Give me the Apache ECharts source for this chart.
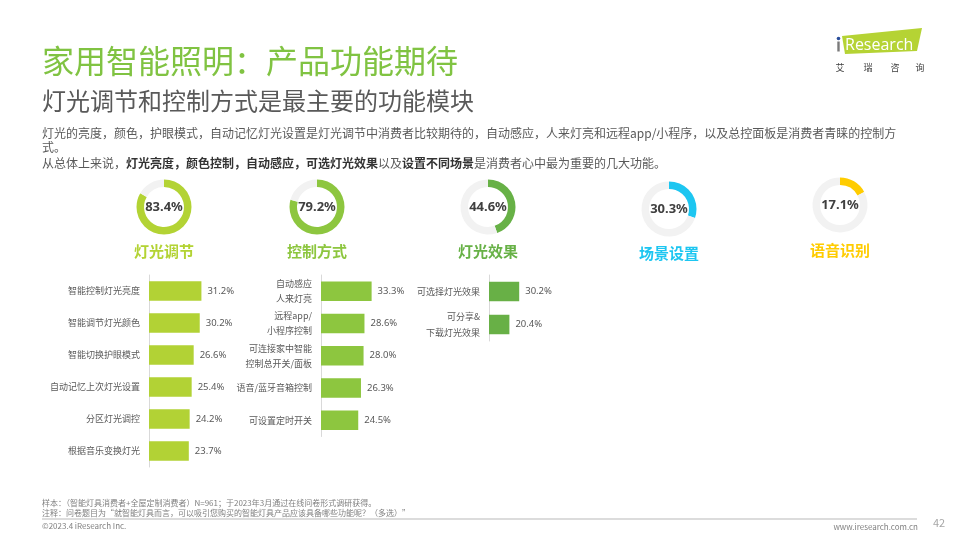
<!DOCTYPE html>
<html>
<head>
<meta charset="utf-8">
<script src="https://cdn.jsdelivr.net/npm/echarts@6/dist/echarts.min.js"></script>
<style>
html,body{margin:0;padding:0;background:#fff;}
#c{width:960px;height:540px;}
</style>
</head>
<body>
<div id="c"></div>
<script>
// ---------- data ----------
var donutNames = ['灯光调节', '控制方式', '灯光效果', '场景设置', '语音识别'];
var donutValues = [83.4, 79.2, 44.6, 30.3, 17.1];

var lightCats = ['智能控制灯光亮度', '智能调节灯光颜色', '智能切换护眼模式', '自动记忆上次灯光设置', '分区灯光调控', '根据音乐变换灯光'];
var lightVals = [31.2, 30.2, 26.6, 25.4, 24.2, 23.7];

var ctrlCats = ['自动感应\n人来灯亮', '远程app/\n小程序控制', '可连接家中智能\n控制总开关/面板', '语音/蓝牙音箱控制', '可设置定时开关'];
var ctrlVals = [33.3, 28.6, 28.0, 26.3, 24.5];

var effectCats = ['可选择灯光效果', '可分享&\n下载灯光效果'];
var effectVals = [30.2, 20.4];

var titleText = '家用智能照明：产品功能期待';
var subtitleText = '灯光调节和控制方式是最主要的功能模块';
var para1 = '灯光的亮度，颜色，护眼模式，自动记忆灯光设置是灯光调节中消费者比较期待的，自动感应，人来灯亮和远程app/小程序，以及总控面板是消费者青睐的控制方';
var para2 = '式。';
var para3Parts = [['n','从总体上来说，'],['b','灯光亮度，颜色控制，自动感应，可选灯光效果'],['n','以及'],['b','设置不同场景'],['n','是消费者心中最为重要的几大功能。']];
var noteSample = '样本：（智能灯具消费者+全屋定制消费者）N=961；于2023年3月通过在线问卷形式调研获得。';
var noteRemark = '注释：问卷题目为“就智能灯具而言，可以吸引您购买的智能灯具产品应该具备哪些功能呢？（多选）”';
var copyright = '©2023.4 iResearch Inc.';
var website = 'www.iresearch.com.cn';
var pageNo = '42';

// ---------- style ----------
var FONT = '"Noto Sans CJK SC","Noto Sans",sans-serif';
var NUMFONT = '"Noto Sans","Noto Sans CJK SC",sans-serif';
var donutColors = ['#b3d334', '#8dc63f', '#67b146', '#1dc6f1', '#ffcc00'];
var donutCenters = [[164, 207], [317, 207], [488, 207], [669, 209], [840, 205]];
var donutLabelY = [251, 251, 251, 253, 250];

var chart = echarts.init(document.getElementById('c'), null, {renderer: 'canvas'});

var series = [];
donutValues.forEach(function (v, i) {
  series.push({
    type: 'pie',
    silent: true,
    center: donutCenters[i],
    radius: [20, 27.5],
    startAngle: 90,
    clockwise: true,
    animation: false,
    labelLine: {show: false},
    data: [
      {value: v, itemStyle: {color: donutColors[i]},
       label: {show: true, position: 'center', formatter: function (p) { return p.value.toFixed(1) + '%'; },
               fontSize: 13, fontWeight: 'bold', color: '#404040', fontFamily: NUMFONT}},
      {value: +(100 - v).toFixed(1), itemStyle: {color: '#f2f2f2'}, label: {show: false}}
    ]
  });
});

function barSeries(idx, vals, color) {
  return {
    type: 'bar',
    xAxisIndex: idx, yAxisIndex: idx,
    data: vals,
    barWidth: 19.5,
    silent: true,
    animation: false,
    itemStyle: {color: color},
    label: {show: true, position: 'right', distance: 6, fontSize: 9.5, color: '#595959', fontFamily: NUMFONT,
            formatter: function (p) { return p.value.toFixed(1) + '%'; }}
  };
}
series.push(barSeries(0, lightVals, '#b2d235'));
series.push(barSeries(1, ctrlVals, '#8dc63f'));
series.push(barSeries(2, effectVals, '#68b046'));

function yAx(idx, cats, lh) {
  return {
    type: 'category', gridIndex: idx, data: cats, inverse: true,
    axisLine: {show: true, lineStyle: {color: '#d9d9d9', width: 1}},
    axisTick: {show: false},
    axisLabel: {fontSize: 9, color: '#595959', margin: 9, lineHeight: lh, fontFamily: FONT}
  };
}
function xAx(idx) {
  return {type: 'value', gridIndex: idx, min: 0, max: 50, show: false, splitLine: {show: false}};
}

var graphics = [
  {type: 'text', style: {text: titleText, x: 42, y: 61, fill: '#80c342', fontSize: 32, fontFamily: FONT, verticalAlign: 'middle'}},
  {type: 'text', style: {text: subtitleText, x: 42, y: 101, fill: '#595959', fontSize: 24, fontFamily: FONT, verticalAlign: 'middle'}},
  {type: 'text', style: {text: para1, x: 42, y: 133, fill: '#595959', fontSize: 12, fontFamily: FONT, verticalAlign: 'middle'}},
  {type: 'text', style: {text: para2, x: 42, y: 147, fill: '#595959', fontSize: 12, fontFamily: FONT, verticalAlign: 'middle'}},
  {type: 'text', style: {
    text: para3Parts.map(function (p) { return '{' + p[0] + '|' + p[1] + '}'; }).join(''),
    x: 42, y: 163, verticalAlign: 'middle',
    rich: {
      n: {fontSize: 12, fill: '#595959', fontFamily: FONT},
      b: {fontSize: 12, fill: '#333333', fontWeight: 'bold', fontFamily: FONT}
    }
  }},
  // footer
  {type: 'text', style: {text: noteSample, x: 42, y: 503, fill: '#808080', fontSize: 8, fontFamily: FONT, verticalAlign: 'middle'}},
  {type: 'text', style: {text: noteRemark, x: 42, y: 513, fill: '#808080', fontSize: 8, fontFamily: FONT, verticalAlign: 'middle'}},
  {type: 'line', shape: {x1: 42, y1: 519, x2: 917, y2: 519}, style: {stroke: '#d0d0d0', lineWidth: 1.5}},
  {type: 'text', style: {text: copyright, x: 42, y: 526, fill: '#808080', fontSize: 8, fontFamily: FONT, verticalAlign: 'middle'}},
  {type: 'text', style: {text: website, x: 918, y: 527, fill: '#808080', fontSize: 8, fontFamily: FONT, align: 'right', verticalAlign: 'middle'}},
  {type: 'text', style: {text: pageNo, x: 939, y: 523, fill: '#a6a6a6', fontSize: 11, fontFamily: FONT, align: 'center', verticalAlign: 'middle'}},
  // logo
  {type: 'polygon', shape: {points: [[842, 36], [922, 28], [917, 51], [845, 54]]}, style: {fill: '#b5d334'}},
  {type: 'circle', shape: {cx: 838.5, cy: 38.5, r: 1.8}, style: {fill: '#2a4e9b'}},
  {type: 'text', style: {text: 'Research', x: 845, y: 45, fill: '#ffffff', fontSize: 16, fontFamily: '"Open Sans",sans-serif', verticalAlign: 'middle'}},
  {type: 'rect', shape: {x: 837.3, y: 41.5, width: 2.4, height: 10}, style: {fill: '#7a7a7a'}},
  {type: 'text', style: {text: '艾', x: 840, y: 68, fill: '#404040', fontSize: 9, fontFamily: FONT, align: 'center', verticalAlign: 'middle'}},
  {type: 'text', style: {text: '瑞', x: 868, y: 68, fill: '#404040', fontSize: 9, fontFamily: FONT, align: 'center', verticalAlign: 'middle'}},
  {type: 'text', style: {text: '咨', x: 895, y: 68, fill: '#404040', fontSize: 9, fontFamily: FONT, align: 'center', verticalAlign: 'middle'}},
  {type: 'text', style: {text: '询', x: 920, y: 68, fill: '#404040', fontSize: 9, fontFamily: FONT, align: 'center', verticalAlign: 'middle'}}
];
donutNames.forEach(function (n, i) {
  graphics.push({type: 'text', style: {text: n, x: donutCenters[i][0], y: donutLabelY[i], fill: donutColors[i],
    fontSize: 15, fontWeight: 'bold', fontFamily: FONT, align: 'center', verticalAlign: 'middle'}});
});

chart.setOption({
  animation: false,
  backgroundColor: '#ffffff',
  textStyle: {fontFamily: FONT},
  grid: [
    {left: 149, top: 275, width: 84, height: 192},
    {left: 321, top: 275, width: 76, height: 161.5},
    {left: 489, top: 275, width: 50, height: 66}
  ],
  xAxis: [xAx(0), xAx(1), xAx(2)],
  yAxis: [yAx(0, lightCats, 15), yAx(1, ctrlCats, 15), yAx(2, effectCats, 16)],
  series: series,
  graphic: {elements: graphics}
});
</script>
</body>
</html>
